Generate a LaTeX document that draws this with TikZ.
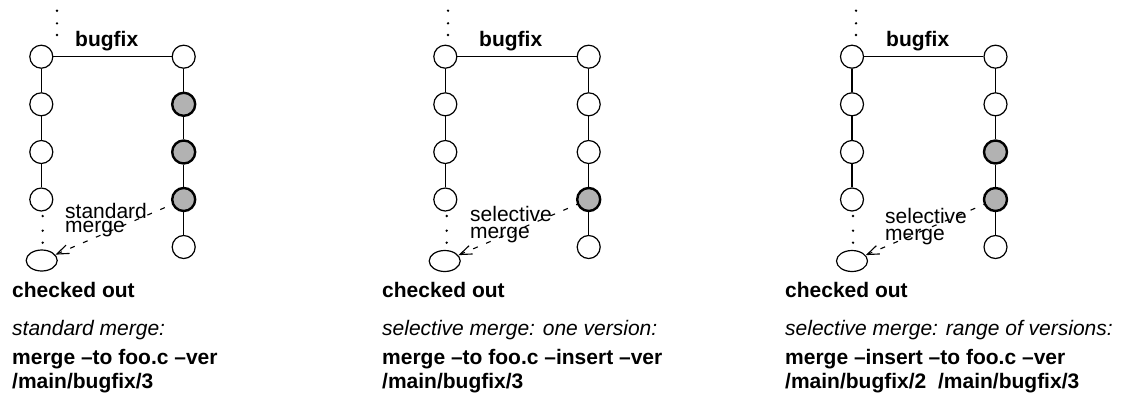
\documentclass[tikz,border=0pt]{standalone}
\usepackage{fontspec}
\setmainfont{Liberation Sans}
\usetikzlibrary{arrows.meta,shapes.geometric}
\definecolor{selgray}{gray}{0.70}
\begin{document}
\begin{tikzpicture}[x=1pt,y=-1pt,
  ver/.style={circle,draw,line width=1.2pt,fill=white,minimum size=23pt,inner sep=0pt},
  sel/.style={ver,fill=selgray,line width=2.4pt},
  coball/.style={ellipse,draw,line width=1.2pt,fill=white,minimum width=31pt,minimum height=21pt,inner sep=0pt},
  branch/.style={line width=1.3pt},
  mergearrow/.style={line width=1.1pt,dash pattern=on 5pt off 9pt,
    {Straight Barb[length=12pt,width=9pt]}-},
  vdot/.style={circle,fill,inner sep=0pt,minimum size=2.6pt},
  lbl/.style={font=\fontsize{21}{24}\selectfont,anchor=base west,inner sep=0pt},
  upper/.style={lbl,text depth=0pt},
  lower/.style={lbl,text height=0.55em},
  boldlbl/.style={lbl,font=\fontsize{21}{24}\selectfont\bfseries},
  itallbl/.style={lbl,font=\fontsize{21}{24}\selectfont\itshape},
]
\useasboundingbox (0,0) rectangle (1124,394);

% ---------------- panel 1: standard merge ----------------
\node[ver] (aL1) at (41.3,56.7) {};
\node[ver] (aL2) at (41.3,104.3) {};
\node[ver] (aL3) at (41.3,152) {};
\node[ver] (aL4) at (41.3,199.5) {};
\node[coball] (aCO) at (41.7,260.5) {};
\node[ver] (aR1) at (183.7,56.7) {};
\node[sel] (aR2) at (183.7,104.3) {};
\node[sel] (aR3) at (183.7,152) {};
\node[sel] (aR4) at (183.7,199.5) {};
\node[ver] (aR5) at (183.7,247) {};
\draw[branch] (aL1) -- (aL2) -- (aL3) -- (aL4);
\draw[branch] (aL1) -- (aR1);
\draw[branch] (aR1) -- (aR2) -- (aR3) -- (aR4) -- (aR5);
\node[vdot] (aT1) at (57,10.7) {};
\node[vdot] (aT2) at (57,23.3) {};
\node[vdot] (aT3) at (57,35) {};
\node[vdot] (aB1) at (42.7,216) {};
\node[vdot] (aB2) at (42.7,230.7) {};
\node[vdot] (aB3) at (42.7,242.7) {};
\draw[mergearrow] (aCO) -- (aR4);
\node[upper] (aM1) at (65,218) {standard};
\node[lower] (aM2) at (65,232) {merge};
\node[boldlbl] (aBug) at (75,46) {bugfix};
\node[boldlbl] (aChk) at (12,297) {checked out};
\node[itallbl] (aCap) at (12,335) {standard merge:};
\node[boldlbl] (aCmd1) at (12,364) {merge –to foo.c –ver};
\node[boldlbl] (aCmd2) at (12,388) {/main/bugfix/3};

% ---------------- panel 2: selective merge, one version ----------------
\node[ver] (bL1) at (445.3,56.7) {};
\node[ver] (bL2) at (445.3,104.3) {};
\node[ver] (bL3) at (445.3,152) {};
\node[ver] (bL4) at (445.3,199.5) {};
\node[coball] (bCO) at (444.7,261) {};
\node[ver] (bR1) at (588.7,56.7) {};
\node[ver] (bR2) at (588.7,104.3) {};
\node[ver] (bR3) at (588.7,152) {};
\node[sel] (bR4) at (588.7,199.5) {};
\node[ver] (bR5) at (588.7,247) {};
\draw[branch] (bL1) -- (bL2) -- (bL3) -- (bL4);
\draw[branch] (bL1) -- (bR1);
\draw[branch] (bR1) -- (bR2) -- (bR3) -- (bR4) -- (bR5);
\node[vdot] (bT1) at (448,10.7) {};
\node[vdot] (bT2) at (448,23.3) {};
\node[vdot] (bT3) at (448,35) {};
\node[vdot] (bB1) at (446.7,216) {};
\node[vdot] (bB2) at (446.7,230.7) {};
\node[vdot] (bB3) at (446.7,242.7) {};
\draw[mergearrow] (bCO) -- (bR4);
\node[upper] (bM1) at (470,221) {selective};
\node[lower] (bM2) at (470,238) {merge};
\node[boldlbl] (bBug) at (479,46) {bugfix};
\node[boldlbl] (bChk) at (382,297) {checked out};
\node[itallbl] (bCap) at (382,335) {selective merge: one version:};
\node[boldlbl] (bCmd1) at (382,364) {merge –to foo.c –insert –ver};
\node[boldlbl] (bCmd2) at (382,388) {/main/bugfix/3};

% ---------------- panel 3: selective merge, range of versions ----------------
\node[ver] (cL1) at (852,56.7) {};
\node[ver] (cL2) at (852,104.3) {};
\node[ver] (cL3) at (852,152) {};
\node[ver] (cL4) at (852,199.5) {};
\node[coball] (cCO) at (852,261) {};
\node[ver] (cR1) at (995.5,56.7) {};
\node[ver] (cR2) at (995.5,104.3) {};
\node[sel] (cR3) at (995.5,152) {};
\node[sel] (cR4) at (995.5,199.5) {};
\node[ver] (cR5) at (995.5,247) {};
\draw[branch] (cL1) -- (cL2) -- (cL3) -- (cL4);
\draw[branch] (cL1) -- (cR1);
\draw[branch] (cR1) -- (cR2) -- (cR3) -- (cR4) -- (cR5);
\node[vdot] (cT1) at (856,10.7) {};
\node[vdot] (cT2) at (856,23.3) {};
\node[vdot] (cT3) at (856,35) {};
\node[vdot] (cB1) at (853,216) {};
\node[vdot] (cB2) at (853,230.7) {};
\node[vdot] (cB3) at (853,242.7) {};
\draw[mergearrow] (cCO) -- (cR4);
\node[upper] (cM1) at (885,223) {selective};
\node[lower] (cM2) at (885,240) {merge};
\node[boldlbl] (cBug) at (886,46) {bugfix};
\node[boldlbl] (cChk) at (785,297) {checked out};
\node[itallbl] (cCap) at (785,335) {selective merge: range of versions:};
\node[boldlbl] (cCmd1) at (785,364) {merge –insert –to foo.c –ver};
\node[boldlbl] (cCmd2) at (785,388) {/main/bugfix/2\ \ /main/bugfix/3};
\end{tikzpicture}
\end{document}
